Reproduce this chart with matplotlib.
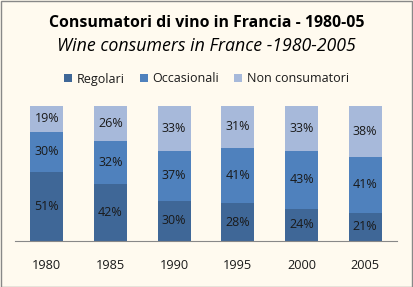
import matplotlib
matplotlib.use("Agg")
import matplotlib.pyplot as plt
import numpy as np
from matplotlib.patches import Rectangle

years = ["1980", "1985", "1990", "1995", "2000", "2005"]
regolari = [51, 42, 30, 28, 24, 21]
occasionali = [30, 32, 37, 41, 43, 41]
non_consumatori = [19, 26, 33, 31, 33, 38]
series_names = ["Regolari", "Occasionali", "Non consumatori"]
colors = ["#3F6797", "#4F81BD", "#A7B9DA"]

plt.rcParams['font.family'] = ['Open Sans', 'DejaVu Sans']
bg = "#FFFAEF"
fig = plt.figure(figsize=(4.13, 2.87), dpi=100, facecolor=bg)
ax = fig.add_axes([15/413, (287-241)/287, (397-15)/413, (241-106)/287])
ax.set_facecolor(bg)

x = np.arange(len(years))
bottom = np.zeros(len(years))
handles = []
for vals, name, c in zip([regolari, occasionali, non_consumatori], series_names, colors):
    v = np.array(vals)
    b = ax.bar(x, v, bottom=bottom, width=0.52, color=c, label=name)
    handles.append(b)
    for xi, vi, bi in zip(x, v, bottom):
        ax.text(xi, bi + vi/2, f"{vi}%", ha="center", va="center", fontsize=9, color="#1a1a1a")
    bottom += v

ax.set_xlim(-0.5, len(years) - 0.5)
ax.set_ylim(0, 100)
ax.set_yticks([])
ax.set_xticks(x)
ax.set_xticklabels(years, fontsize=9.2, color="#1a1a1a")
ax.tick_params(axis="x", length=0, pad=13)
for s in ["top", "left", "right"]:
    ax.spines[s].set_visible(False)
ax.spines["bottom"].set_color("#888888")

fig.text(0.5, 1 - 23/287, "Consumatori di vino in Francia - 1980-05", ha="center", va="center",
         fontsize=11.4, fontweight="bold", color="black")
fig.text(0.5, 1 - 46/287, "Wine consumers in France -1980-2005", ha="center", va="center",
         fontsize=12.8, fontstyle="italic", color="black")

fig.legend(handles=handles, labels=series_names, loc="center", bbox_to_anchor=(0.5, 1 - 79/287),
           ncol=3, frameon=False, fontsize=9, handlelength=0.65, handleheight=0.65,
           handletextpad=0.35, columnspacing=1.2, labelcolor="#1a1a1a")

fig.patches.append(Rectangle((0.5/413, 0.5/287), 1 - 1.5/413, 1 - 1.5/287, transform=fig.transFigure,
                             fill=False, edgecolor="#888888", linewidth=1))

fig.savefig("out.png", dpi=100, facecolor=bg)
